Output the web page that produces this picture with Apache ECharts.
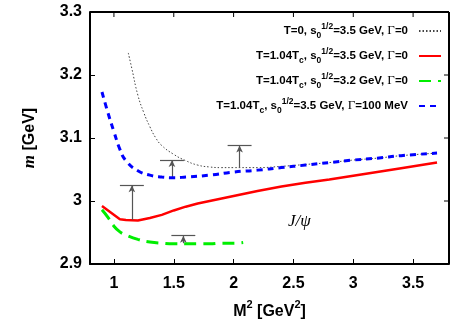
<!DOCTYPE html>
<html lang="en">
<head>
<meta charset="UTF-8">
<title>J/psi mass vs Borel parameter</title>
<script src="https://cdn.jsdelivr.net/npm/echarts@6/dist/echarts.min.js"></script>
<style>
  html, body { margin: 0; padding: 0; background: #fff; }
  #main { width: 467px; height: 327px; }
</style>
</head>
<body>
<div id="main"></div>
<script>
// T=0, s0^1/2=3.5 GeV, Gamma=0 (black dotted)
var dotX = [1.12, 1.15, 1.2, 1.25, 1.3, 1.35, 1.4, 1.5, 1.6, 1.7, 1.8, 1.9, 2.0, 2.2, 2.4, 2.6, 2.8, 3.0, 3.2, 3.4, 3.7];
var dotY = [3.235, 3.21, 3.168, 3.14, 3.118, 3.10, 3.088, 3.074, 3.064, 3.057, 3.054, 3.053, 3.053, 3.053, 3.055, 3.058, 3.061, 3.065, 3.068, 3.072, 3.076];
// T=1.04Tc, s0^1/2=3.5 GeV, Gamma=0 (red)
var redX = [0.9, 1.05, 1.1, 1.2, 1.3, 1.4, 1.5, 1.6, 1.7, 1.8, 1.9, 2.0, 2.2, 2.4, 2.6, 2.8, 3.0, 3.2, 3.4, 3.7];
var redY = [2.992, 2.971, 2.970, 2.969, 2.973, 2.978, 2.985, 2.991, 2.996, 3.000, 3.004, 3.008, 3.016, 3.023, 3.029, 3.034, 3.040, 3.046, 3.052, 3.061];
// T=1.04Tc, s0^1/2=3.2 GeV, Gamma=0 (green dashed)
var greenX = [0.9, 0.95, 1.0, 1.05, 1.1, 1.2, 1.3, 1.4, 1.5, 1.6, 1.7, 1.8, 1.9, 2.0, 2.08];
var greenY = [2.986, 2.974, 2.960, 2.951, 2.946, 2.939, 2.935, 2.933, 2.932, 2.932, 2.932, 2.932, 2.933, 2.933, 2.934];
// T=1.04Tc, s0^1/2=3.5 GeV, Gamma=100 MeV (blue dashed)
var blueX = [0.9, 0.95, 1.0, 1.05, 1.1, 1.2, 1.3, 1.4, 1.5, 1.6, 1.8, 2.0, 2.2, 2.4, 2.6, 2.8, 3.0, 3.2, 3.4, 3.7];
var blueY = [3.173, 3.14, 3.11, 3.082, 3.064, 3.048, 3.041, 3.038, 3.037, 3.038, 3.041, 3.046, 3.049, 3.053, 3.057, 3.061, 3.065, 3.068, 3.072, 3.076];

// arrows: x position, lower end (curve), upper end (bar)
var arrowX = [1.15, 1.485, 2.05, 1.58];
var arrowLow = [2.970, 3.037, 3.053, 2.933];
var arrowHigh = [3.025, 3.065, 3.088, 2.945];
var barHalf = 0.1;

var xTicks = [1, 1.5, 2, 2.5, 3, 3.5];

var names = [
  'T=0, s0^1/2=3.5 GeV, Γ=0',
  'T=1.04Tc, s0^1/2=3.5 GeV, Γ=0',
  'T=1.04Tc, s0^1/2=3.2 GeV, Γ=0',
  'T=1.04Tc, s0^1/2=3.5 GeV, Γ=100 MeV'
];
var legendRich = {};
legendRich[names[0]] = '{b|T=0, s}{sub|0}{sup|1/2}{b|=3.5 GeV, }{g|Γ}{b|=0}';
legendRich[names[1]] = '{b|T=1.04T}{sub|c}{b|, s}{sub|0}{sup|1/2}{b|=3.5 GeV, }{g|Γ}{b|=0}';
legendRich[names[2]] = '{b|T=1.04T}{sub|c}{b|, s}{sub|0}{sup|1/2}{b|=3.2 GeV, }{g|Γ}{b|=0}';
legendRich[names[3]] = '{b|T=1.04T}{sub|c}{b|, s}{sub|0}{sup|1/2}{b|=3.5 GeV, }{g|Γ}{b|=100 MeV}';

function zip(xs, ys) {
  return xs.map(function (x, i) { return [x, ys[i]]; });
}

var stems = [], bars = [];
arrowX.forEach(function (x, i) {
  stems.push([{ coord: [x, arrowLow[i]] }, { coord: [x, arrowHigh[i]] }]);
  bars.push([{ coord: [x - barHalf, arrowHigh[i]] }, { coord: [x + barHalf, arrowHigh[i]] }]);
});

var chart = echarts.init(document.getElementById('main'));
var option = {
  animation: false,
  grid: { left: 90, right: 18, top: 12, bottom: 63 },
  legend: {
    orient: 'vertical',
    right: 20,
    top: 17,
    align: 'right',
    itemWidth: 22,
    itemHeight: 10,
    itemGap: 7,
    itemStyle: { opacity: 0 },
    data: names,
    formatter: function (n) { return legendRich[n]; },
    textStyle: {
      padding: [0, 6, 0, 0],
      rich: {
        b: { fontFamily: 'Liberation Sans', fontWeight: 'bold', fontSize: 11.5, color: '#000', lineHeight: 18, verticalAlign: 'middle' },
        g: { fontFamily: 'Liberation Serif', fontSize: 13, color: '#000', lineHeight: 18, verticalAlign: 'middle' },
        sub: { fontFamily: 'Liberation Sans', fontWeight: 'bold', fontSize: 8.5, color: '#000', verticalAlign: 'bottom', lineHeight: 18 },
        sup: { fontFamily: 'Liberation Sans', fontWeight: 'bold', fontSize: 8.5, color: '#000', verticalAlign: 'top', lineHeight: 18 }
      }
    }
  },
  xAxis: {
    type: 'value',
    min: 0.8,
    max: 3.8,
    name: '{n|M}{sup|2}{n| [GeV}{sup|2}{n|]}',
    nameLocation: 'middle',
    nameGap: 35,
    nameTextStyle: {
      fontFamily: 'Liberation Sans', fontWeight: 'bold', fontSize: 16, color: '#000',
      rich: {
        n: { fontFamily: 'Liberation Sans', fontWeight: 'bold', fontSize: 16, color: '#000', lineHeight: 21, verticalAlign: 'bottom' },
        sup: { fontFamily: 'Liberation Sans', fontWeight: 'bold', fontSize: 11, color: '#000', lineHeight: 21, verticalAlign: 'top' }
      }
    },
    axisLine: { onZero: false, lineStyle: { color: '#000', width: 2 } },
    axisTick: { inside: true, length: 5, customValues: xTicks, lineStyle: { color: '#000' } },
    axisLabel: {
      customValues: xTicks, margin: 12,
      fontFamily: 'Liberation Sans', fontWeight: 'bold', fontSize: 16, color: '#000'
    },
    splitLine: { show: false }
  },
  yAxis: {
    type: 'value',
    min: 2.9,
    max: 3.3,
    interval: 0.1,
    name: '{i|m} [GeV]',
    nameLocation: 'middle',
    nameGap: 52,
    nameTextStyle: {
      fontFamily: 'Liberation Sans', fontWeight: 'bold', fontSize: 16, color: '#000',
      rich: { i: { fontFamily: 'Liberation Serif', fontStyle: 'italic', fontSize: 17, color: '#000' } }
    },
    axisLine: { onZero: false, lineStyle: { color: '#000', width: 2 } },
    axisTick: { inside: true, length: 5, lineStyle: { color: '#000' } },
    axisLabel: { margin: 8, fontFamily: 'Liberation Sans', fontWeight: 'bold', fontSize: 16, color: '#000' },
    splitLine: { show: false }
  },
  series: [
    {
      name: names[0], type: 'line', symbol: 'none', smooth: true,
      lineStyle: { color: '#444', width: 1, type: [1.5, 2] },
      itemStyle: { color: '#444' },
      data: zip(dotX, dotY), z: 3
    },
    {
      name: names[1], type: 'line', symbol: 'none', smooth: false,
      lineStyle: { color: '#ff0000', width: 2.5 },
      itemStyle: { color: '#ff0000' },
      data: zip(redX, redY), z: 4
    },
    {
      name: names[2], type: 'line', symbol: 'none', smooth: true,
      lineStyle: { color: '#00ee00', width: 3, type: [12, 7] },
      itemStyle: { color: '#00ee00' },
      data: zip(greenX, greenY), z: 4
    },
    {
      name: names[3], type: 'line', symbol: 'none', smooth: true,
      lineStyle: { color: '#0000ff', width: 3, type: [6, 5] },
      itemStyle: { color: '#0000ff' },
      data: zip(blueX, blueY), z: 5,
      markLine: {
        silent: true,
        symbol: ['none', 'arrow'],
        symbolSize: [5, 7],
        label: { show: false },
        lineStyle: { color: '#555', width: 1.2, type: 'solid' },
        data: stems
      }
    },
    {
      // helper series carrying the horizontal bars on top of the arrows
      name: 'bars', type: 'line', data: [], symbol: 'none',
      markLine: {
        silent: true,
        symbol: 'none',
        label: { show: false },
        lineStyle: { color: '#555', width: 1.2, type: 'solid' },
        data: bars
      }
    }
  ]
};
chart.setOption(option);

// mirrored ticks on top and right, plus the J/psi label
var gl = 90, gt = 12, gr = 467 - 18, gb = 327 - 63;
var g = [];
xTicks.forEach(function (v) {
  var px = chart.convertToPixel({ xAxisIndex: 0 }, v);
  g.push({ type: 'line', shape: { x1: px, y1: gt, x2: px, y2: gt + 5 }, style: { stroke: '#000', lineWidth: 1 } });
});
[2.9, 3.0, 3.1, 3.2, 3.3].forEach(function (v) {
  var py = chart.convertToPixel({ yAxisIndex: 0 }, v);
  g.push({ type: 'line', shape: { x1: gr, y1: py, x2: gr - 5, y2: py }, style: { stroke: '#000', lineWidth: 1 } });
});
g.push({ type: 'line', shape: { x1: gl, y1: gt, x2: gr, y2: gt }, style: { stroke: '#000', lineWidth: 2 } });
g.push({ type: 'line', shape: { x1: gr, y1: gt, x2: gr, y2: gb }, style: { stroke: '#000', lineWidth: 2 } });
var jp = chart.convertToPixel({ xAxisIndex: 0, yAxisIndex: 0 }, [2.55, 2.967]);
g.push({
  type: 'text', x: jp[0], y: jp[1],
  style: { text: 'J/ψ', font: 'italic 17px "Liberation Serif"', fill: '#000', align: 'center', verticalAlign: 'middle' }
});
chart.setOption({ graphic: g });
</script>
</body>
</html>
